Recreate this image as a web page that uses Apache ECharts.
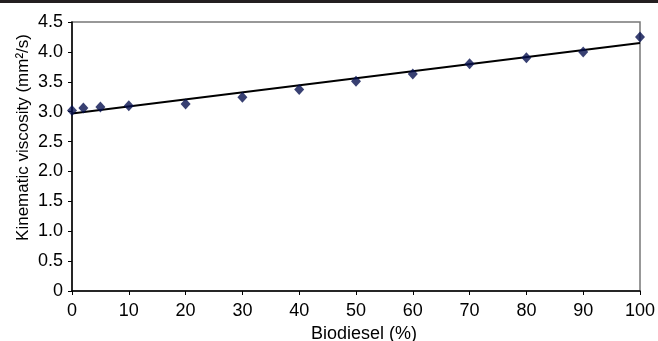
<!DOCTYPE html>
<html>
<head>
<meta charset="utf-8">
<script src="https://cdn.jsdelivr.net/npm/echarts@6/dist/echarts.min.js"></script>
<style>
  html, body { margin: 0; padding: 0; background: #fff; }
  #main { width: 658px; height: 341px; }
</style>
</head>
<body>
<div id="main"></div>
<script>
// biodiesel blend (%) and measured viscosity
var blend = [0, 2, 5, 10, 20, 30, 40, 50, 60, 70, 80, 90, 100];
var viscosity = [3.02, 3.06, 3.08, 3.10, 3.13, 3.24, 3.37, 3.51, 3.63, 3.80, 3.90, 4.00, 4.25];
// linear trend line end points
var trendX = [0, 100];
var trendY = [2.97, 4.15];

var FONT = '"Liberation Sans", Arial, Helvetica, sans-serif';

var myChart = echarts.init(document.getElementById('main'));

var points = blend.map(function (x, i) { return [x, viscosity[i]]; });
var trend = trendX.map(function (x, i) { return [x, trendY[i]]; });

var option = {
    backgroundColor: '#fff',
    animation: false,
    textStyle: { fontFamily: FONT },
    graphic: [
        { type: 'rect', left: 0, top: 0, shape: { width: 658, height: 3 }, style: { fill: '#231f20' } }
    ],
    grid: {
        left: 72, right: 18, top: 22, bottom: 50,
        outerBoundsMode: 'none',
        containLabel: false,
        show: true, borderColor: '#777', borderWidth: 1.5
    },
    xAxis: {
        type: 'value',
        min: 0, max: 100, interval: 10,
        name: 'Biodiesel (%)',
        nameLocation: 'middle',
        nameMoveOverlap: false,
        nameGap: 34,
        nameTextStyle: { color: '#000', fontSize: 18, fontFamily: FONT, padding: [0, 0, 0, 16] },
        axisLine: { show: true, onZero: false, lineStyle: { color: '#000', width: 1.5 } },
        axisTick: { show: true, length: 4, lineStyle: { color: '#000' } },
        axisLabel: { color: '#000', fontSize: 18, margin: 11, fontFamily: FONT },
        splitLine: { show: false }
    },
    yAxis: {
        type: 'value',
        min: 0, max: 4.5, interval: 0.5,
        name: 'Kinematic viscosity (mm²/s)',
        nameLocation: 'middle',
        nameMoveOverlap: false,
        nameGap: 40,
        nameTextStyle: { color: '#000', fontSize: 17, fontFamily: FONT, padding: [0, 0, 0, 38] },
        axisLine: { show: true, onZero: false, lineStyle: { color: '#000', width: 1.5 } },
        axisTick: { show: true, length: 4, lineStyle: { color: '#000' } },
        axisLabel: {
            color: '#000', fontSize: 18, margin: 9, fontFamily: FONT,
            formatter: function (v) { return v === 0 ? '0' : v.toFixed(1); }
        },
        splitLine: { show: false }
    },
    series: [
        {
            name: 'trend',
            type: 'line',
            data: trend,
            symbol: 'none',
            lineStyle: { color: '#000', width: 2 },
            z: 3
        },
        {
            name: 'viscosity',
            type: 'scatter',
            data: points,
            symbol: 'diamond',
            symbolSize: [10, 11],
            itemStyle: { color: '#06104f' },
            z: 4
        }
    ]
};

myChart.setOption(option);
</script>
</body>
</html>
